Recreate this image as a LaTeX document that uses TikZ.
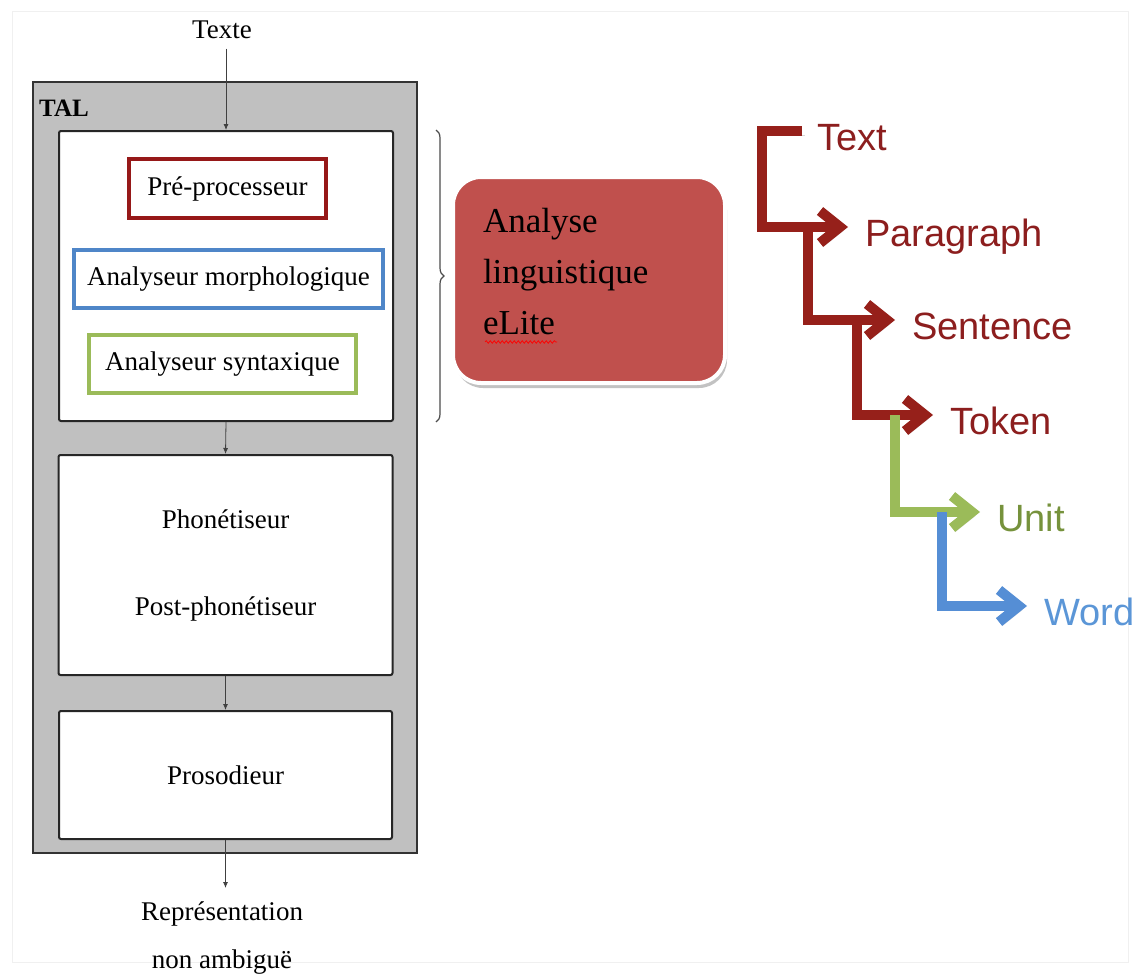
\documentclass[tikz,border=0pt]{standalone}
\usepackage{fontspec}
\setmainfont{Liberation Serif}
\newfontfamily\arialfont{Liberation Sans}
\usetikzlibrary{arrows.meta, positioning, shadows, decorations.pathreplacing, decorations.pathmorphing}
\definecolor{talgray}{RGB}{192,192,192}
\definecolor{preRed}{RGB}{150,24,24}
\definecolor{morphBlue}{RGB}{79,134,200}
\definecolor{syntGreen}{RGB}{155,187,89}
\definecolor{eliteRed}{RGB}{192,80,77}
\definecolor{treeRed}{RGB}{150,32,26}
\definecolor{treeRedText}{RGB}{140,30,30}
\definecolor{treeGreen}{RGB}{155,187,89}
\definecolor{treeGreenText}{RGB}{118,146,60}
\definecolor{treeBlue}{RGB}{85,142,213}
\definecolor{treeBlueText}{RGB}{91,150,215}
\newcommand{\flowfont}{\fontsize{27}{31}\selectfont}
\tikzset{
    stagebox/.style={rectangle, rounded corners=2pt, draw=black!85, line width=2pt, fill=white, align=center, font=\flowfont},
    modbox/.style={rectangle, line width=4pt, fill=white, align=center, font=\flowfont, inner sep=0pt},
    flowarrow/.style={-{Latex[length=6pt,width=5pt]}, black!75, line width=0.8pt},
    treearrow/.style={line width=10pt, line join=miter, -{Straight Barb[length=20pt,width=32pt]},
        preaction={draw=black!30, opacity=0.5, transform canvas={shift={(3pt,-4pt)}}}},
    treelabel/.style={anchor=base west, inner sep=0pt, text height=38pt, text depth=0pt, font=\arialfont\fontsize{38}{42}\selectfont},
}
\begin{document}
\begin{tikzpicture}[x=1pt, y=-1pt]
\useasboundingbox (0,0) rectangle (1146,974);
% faint frame
\draw[black!6, line width=1pt] (12,12) rectangle (1128,962);

% TAL chain
\node[font=\flowfont] (texte) at (222,30) {Texte};
\node[rectangle, draw=black!80, line width=2.5pt, fill=talgray, minimum width=384, minimum height=771] (tal) at (225,467.5) {};
\node[anchor=west, font=\fontsize{25}{28}\selectfont\bfseries, inner sep=0pt] (tallbl) at (39,108) {TAL};
\node[stagebox, minimum width=334, minimum height=290] (ling) at (226,276) {};
\node[modbox, draw=preRed, minimum width=197, minimum height=59] (pre) at (227.5,188.5) {Pré-processeur};
\node[modbox, draw=morphBlue, minimum width=309, minimum height=58] (morph) at (228.5,279) {Analyseur morphologique};
\node[modbox, draw=syntGreen, minimum width=267, minimum height=58] (synt) at (222.5,364) {Analyseur syntaxique};
\node[stagebox, minimum width=334, minimum height=220] (phon) at (225.5,565) {Phonétiseur\\[56pt]Post-phonétiseur};
\node[stagebox, minimum width=333, minimum height=128] (pros) at (225.5,775) {Prosodieur};
\node[align=center, anchor=north, inner sep=2pt, font=\fontsize{27}{48}\selectfont] (repr) at (222,900) {Représentation\\non ambiguë};

\draw[flowarrow] (texte.south -| ling.north) ++(0,6) -- (ling.north);
\draw[flowarrow] (ling.south) -- (phon.north);
\draw[flowarrow] (phon.south) -- (pros.north);
\draw[flowarrow, shorten >=12pt] (pros.south) -- (pros.south |- repr.north);

% brace and eLite
\draw[black!70, line width=1.2pt, decorate, decoration={brace, amplitude=8pt}] ([xshift=42pt]ling.north east) -- ([xshift=42pt]ling.south east);
\node[rectangle, rounded corners=28pt, fill=eliteRed, draw=white, line width=4pt,
      drop shadow={shadow xshift=2pt, shadow yshift=-5pt, fill=black!40, opacity=0.6},
      minimum width=272, minimum height=206, text width=212, inner xsep=30pt, align=left,
      font=\fontsize{35}{51}\selectfont] (elite) at (589,280) {Analyse\\linguistique\\eLite\par\kern16pt};
\draw[red, line width=0.7pt, decorate, decoration={snake, amplitude=1.3pt, segment length=4pt}] (485,342) -- (557,342);

% unit tree
\node[treelabel, text=treeRedText] (txt) at (817,150) {Text};
\node[treelabel, text=treeRedText] (par) at (865,246) {Paragraph};
\node[treelabel, text=treeRedText] (sen) at (912,339) {Sentence};
\node[treelabel, text=treeRedText] (tok) at (950,434) {Token};
\node[treelabel, text=treeGreenText] (uni) at (997,531) {Unit};
\node[treelabel, text=treeBlueText] (wrd) at (1044,625) {Word};

\draw[treearrow, treeRed] ([xshift=-15pt]txt.west) -- ([xshift=-55pt]txt.west) |- ([xshift=-17pt]par.west);
\draw[treearrow, treeRed] ([xshift=-57pt]par.west) |- ([xshift=-17pt]sen.west);
\draw[treearrow, treeRed] ([xshift=-55pt]sen.west) |- ([xshift=-17pt]tok.west);
\draw[treearrow, treeGreen] ([xshift=-55pt]tok.west) |- ([xshift=-17pt]uni.west);
\draw[treearrow, treeBlue] ([xshift=-55pt]uni.west) |- ([xshift=-17pt]wrd.west);
\end{tikzpicture}
\end{document}
